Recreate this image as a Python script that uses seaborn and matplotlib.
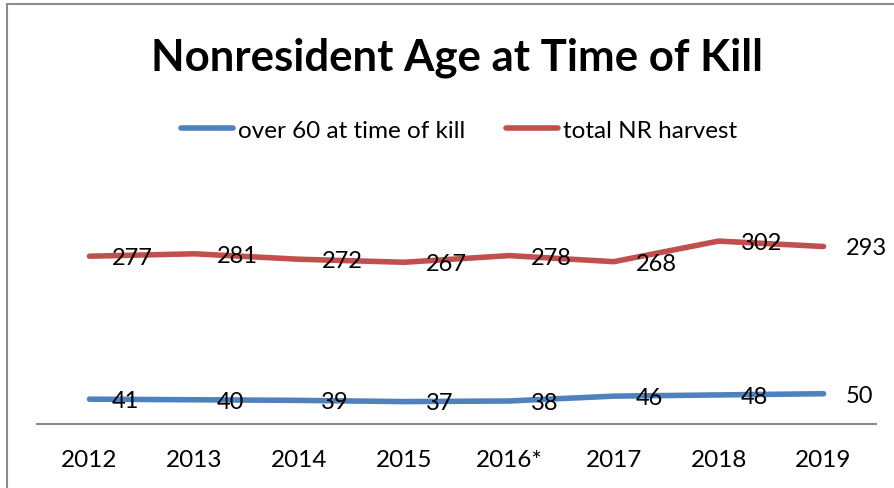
import matplotlib.pyplot as plt
import seaborn as sns
import pandas as pd
from matplotlib.patches import Rectangle

# data
years = ["2012", "2013", "2014", "2015", "2016*", "2017", "2018", "2019"]
over_60 = [41, 40, 39, 37, 38, 46, 48, 50]
total_nr = [277, 281, 272, 267, 278, 268, 302, 293]
series_names = ["over 60 at time of kill", "total NR harvest"]
colors = ["#4F81BD", "#C0504D"]

df = pd.DataFrame({
    "year": years * 2,
    "x": list(range(len(years))) * 2,
    "value": over_60 + total_nr,
    "series": [series_names[0]] * len(years) + [series_names[1]] * len(years),
})

sns.set_style("white")
plt.rcParams["font.family"] = ["Lato", "DejaVu Sans"]
plt.rcParams["text.color"] = "black"
plt.rcParams["xtick.color"] = "black"
plt.rcParams["xtick.labelcolor"] = "black"

fig = plt.figure(figsize=(8.94, 4.89), dpi=100)
ax = fig.add_axes([37 / 894, 1 - 425 / 489, 839 / 894, 212 / 489])

sns.lineplot(data=df, x="x", y="value", hue="series", palette=colors,
             linewidth=4.0, ax=ax, legend=False, solid_capstyle="round")

# data labels to the right of each point
for _, row in df.iterrows():
    ax.annotate(str(row["value"]), (row["x"], row["value"]),
                xytext=(16, -1), textcoords="offset points",
                ha="left", va="center", fontsize=17, color="black")

ax.set_xlim(-0.5, len(years) - 0.5)
ax.set_ylim(0, 350)
ax.set_xticks(range(len(years)))
ax.set_xticklabels(years, fontsize=17.5, color="black")
ax.tick_params(axis="x", length=0, pad=18)
ax.set_yticks([])
ax.set_xlabel("")
ax.set_ylabel("")
for side in ["left", "right", "top"]:
    ax.spines[side].set_visible(False)
ax.spines["bottom"].set_color("#8C8C8C")
ax.spines["bottom"].set_linewidth(1.5)
ax.patch.set_alpha(0)

fig.text(457 / 894, 1 - 58 / 489, "Nonresident Age at Time of Kill", ha="center",
         va="center", fontsize=31.5, fontweight="bold", color="black")

handles = [plt.Line2D([], [], color=c, linewidth=4.0, solid_capstyle="round")
           for c in colors]
fig.legend(handles, series_names, loc="center",
           bbox_to_anchor=(459 / 894, 1 - 131 / 489),
           ncol=2, frameon=False, fontsize=17.5, handlelength=2.15,
           handletextpad=0.2, columnspacing=1.7, labelcolor="black")

# chart border (cropped on right and bottom)
fig.patches.append(Rectangle((7 / 894, -0.1), 1.2, 1 - 5 / 489 + 0.1,
                             transform=fig.transFigure, fill=False,
                             edgecolor="#8C8C8C", linewidth=1.5))

fig.savefig("out.png", dpi=100)
